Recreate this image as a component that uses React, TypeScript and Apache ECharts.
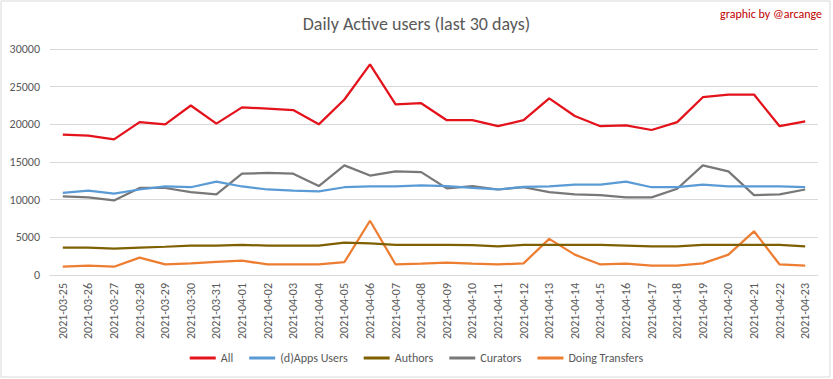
import React, { useEffect, useRef } from "react";
import * as echarts from "echarts";

const dates = [
  "2021-03-25", "2021-03-26", "2021-03-27", "2021-03-28", "2021-03-29", "2021-03-30", "2021-03-31",
  "2021-04-01", "2021-04-02", "2021-04-03", "2021-04-04", "2021-04-05", "2021-04-06", "2021-04-07",
  "2021-04-08", "2021-04-09", "2021-04-10", "2021-04-11", "2021-04-12", "2021-04-13", "2021-04-14",
  "2021-04-15", "2021-04-16", "2021-04-17", "2021-04-18", "2021-04-19", "2021-04-20", "2021-04-21",
  "2021-04-22", "2021-04-23",
];

const allUsers = [
  18650, 18500, 18000, 20300, 20000, 22500, 20100, 22250, 22100, 21900, 20000, 23300, 27950, 22650,
  22800, 20550, 20550, 19750, 20550, 23450, 21100, 19750, 19850, 19250, 20300, 23600, 23950, 23950,
  19750, 20400,
];
const appsUsers = [
  10900, 11200, 10800, 11350, 11750, 11650, 12400, 11750, 11350, 11200, 11100, 11650, 11750, 11750,
  11900, 11800, 11550, 11350, 11700, 11750, 12000, 12000, 12400, 11650, 11650, 12000, 11750, 11750,
  11750, 11650,
];
const authors = [
  3650, 3650, 3500, 3650, 3750, 3900, 3900, 4000, 3900, 3900, 3900, 4300, 4200, 4000,
  4000, 4000, 3950, 3800, 4000, 4000, 4000, 4000, 3900, 3800, 3800, 4000, 4000, 4000,
  4000, 3800,
];
const curators = [
  10450, 10300, 9900, 11550, 11550, 11000, 10700, 13450, 13550, 13450, 11800, 14550, 13200, 13750,
  13650, 11500, 11800, 11350, 11650, 11000, 10700, 10600, 10300, 10300, 11450, 14550, 13750, 10600,
  10700, 11350,
];
const transfers = [
  1100, 1250, 1100, 2300, 1400, 1550, 1750, 1900, 1400, 1400, 1400, 1700, 7200, 1400,
  1500, 1650, 1500, 1400, 1550, 4800, 2700, 1400, 1500, 1250, 1250, 1550, 2700, 5800,
  1400, 1250,
];

const seriesNames = ["All", "(d)Apps Users", "Authors", "Curators", "Doing Transfers"];
const seriesColors = ["#E3121B", "#5B9BD5", "#7F6000", "#787878", "#ED7D31"];
const yTicks = [0, 5000, 10000, 15000, 20000, 25000, 30000];

const FONT = "Calibri, Carlito, 'Liberation Sans Narrow', 'DejaVu Sans Condensed', 'Open Sans', sans-serif";
const TXT = "#595959";

export default function App() {
  const ref = useRef<HTMLDivElement>(null);
  useEffect(() => {
    if (!ref.current) return;
    const chart = echarts.init(ref.current, undefined, { renderer: "svg" });
    const data = [allUsers, appsUsers, authors, curators, transfers];
    chart.setOption({
      animation: false,
      backgroundColor: "#ffffff",
      textStyle: { fontFamily: FONT },
      title: {
        text: "Daily Active users (last 30 days)",
        left: "center",
        top: 10,
        textStyle: { fontFamily: FONT, fontSize: 18, fontWeight: "normal", color: TXT },
      },
      graphic: [
        {
          type: "rect",
          shape: { x: 1, y: 1, width: 829, height: 376 },
          style: { fill: "none", stroke: "#D9D9D9", lineWidth: 1 },
          silent: true,
        },
        {
          type: "text",
          right: 11,
          top: 8,
          style: {
            text: "graphic by @arcange",
            fill: "#C00000",
            font: `12px ${FONT}`,
          },
        },
      ],
      legend: {
        data: seriesNames,
        bottom: 10,
        left: "center",
        icon: "rect",
        itemWidth: 26,
        itemHeight: 3,
        itemGap: 16,
        textStyle: { fontFamily: FONT, fontSize: 12, color: TXT },
      },
      grid: { left: 50, right: 15, top: 49, bottom: 104, containLabel: false },
      xAxis: {
        type: "category",
        data: dates,
        boundaryGap: true,
        axisLine: { lineStyle: { color: "#D9D9D9" } },
        axisTick: { show: false },
        axisLabel: { rotate: 90, interval: 0, color: TXT, fontSize: 12, fontFamily: FONT, margin: 8 },
      },
      yAxis: {
        type: "value",
        min: yTicks[0],
        max: yTicks[yTicks.length - 1],
        interval: yTicks[1] - yTicks[0],
        axisLine: { show: false },
        axisTick: { show: false },
        splitLine: { lineStyle: { color: "#D9D9D9" } },
        axisLabel: {
          color: TXT,
          fontSize: 12,
          fontFamily: FONT,
          margin: 10,
          formatter: (v: number) => String(v),
        },
      },
      series: seriesNames.map((name, i) => ({
        name,
        type: "line",
        data: data[i],
        symbol: "none",
        color: seriesColors[i],
        lineStyle: { width: 2.25, color: seriesColors[i] },
        z: 10 - i,
      })),
    });
    return () => chart.dispose();
  }, []);
  return (
    <div
      ref={ref}
      style={{ position: "absolute", left: 0, top: 0, width: 833, height: 379 }}
    />
  );
}
